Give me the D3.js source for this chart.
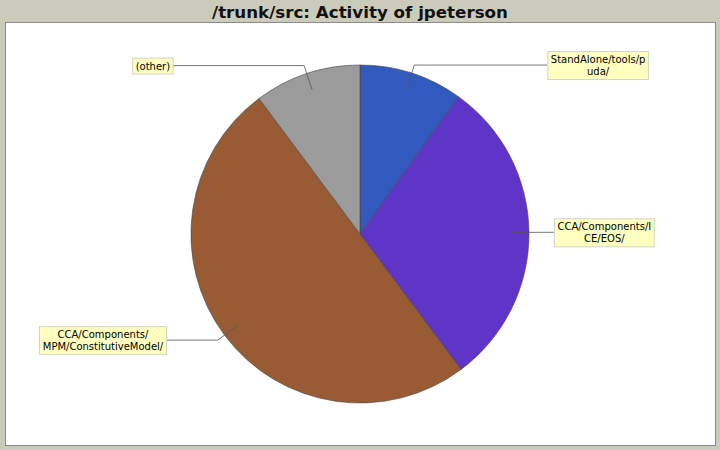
<!DOCTYPE html>
<html>
<head>
<meta charset="utf-8">
<script src="https://cdn.jsdelivr.net/npm/d3@7"></script>
<style>
  html, body { margin: 0; padding: 0; background: #cbcbbb; }
  svg { display: block; }
</style>
</head>
<body>
<svg id="chart" width="720" height="450"></svg>
<script>
// data (share of activity per directory)
const categories = ["StandAlone/tools/puda/", "CCA/Components/ICE/EOS/", "CCA/Components/MPM/ConstitutiveModel/", "(other)"];
const values = [9.9, 29.9, 50.0, 10.2];
const labelLines = [
    ["StandAlone/tools/p", "uda/"],
    ["CCA/Components/I", "CE/EOS/"],
    ["CCA/Components/", "MPM/ConstitutiveModel/"],
    ["(other)"]
];
const colors = ["#3159be", "#5f35c8", "#995b34", "#9b9b9b"];
const title = "/trunk/src: Activity of jpeterson";

const width = 720, height = 450;
const svg = d3.select("#chart");

// background + plot frame
svg.append("rect")
    .attr("width", width)
    .attr("height", height)
    .attr("fill", "#cbcbbb");

svg.append("rect")
    .attr("x", 5.5)
    .attr("y", 22.5)
    .attr("width", 710)
    .attr("height", 423)
    .attr("fill", "white")
    .attr("stroke", "#8a8a8a")
    .attr("stroke-width", 1);

svg.append("text")
    .attr("x", width / 2)
    .attr("y", 18)
    .attr("text-anchor", "middle")
    .attr("font-family", "DejaVu Sans")
    .attr("font-weight", "bold")
    .attr("font-size", 16.7)
    .attr("fill", "#111")
    .text(title);

// pie geometry
const cx = 360, cy = 234, r = 169;
const g = svg.append("g").attr("transform", `translate(${cx},${cy})`);

const pie = d3.pie().sort(null).value(d => d)(values);
const arc = d3.arc().innerRadius(0).outerRadius(r);

g.selectAll("path.slice")
    .data(pie)
    .join("path")
    .attr("class", "slice")
    .attr("d", arc)
    .attr("fill", (d, i) => colors[i])
    .attr("stroke", "#444")
    .attr("stroke-width", 0.6)
    .attr("stroke-linejoin", "round");

// labels with links
const anchorArc = d3.arc().innerRadius(r * 0.9).outerRadius(r * 0.9);
const elbowArc = d3.arc().innerRadius(r * 1.05).outerRadius(r * 1.05);
const lineH = 12, padX = 3, padY = 2;

pie.forEach((d, i) => {
    const mid = (d.startAngle + d.endAngle) / 2;
    const right = Math.sin(mid) > 0;
    const p0 = anchorArc.centroid(d);
    const p1 = elbowArc.centroid(d);

    const lines = labelLines[i];
    const lab = g.append("g");
    const txt = lab.append("text")
        .attr("font-family", "DejaVu Sans")
        .attr("font-size", 10)
        .attr("fill", "#000")
        .attr("text-anchor", "middle");
    lines.forEach((s, k) => {
        txt.append("tspan")
            .attr("x", 0)
            .attr("y", k * lineH)
            .text(s);
    });
    const bb = txt.node().getBBox();
    const bw = bb.width + padX * 2;
    const bh = lines.length * lineH + padY * 2;

    // labels near the top of the pie sit a bit closer in
    const dist = r + 25 - 7 * Math.max(0, Math.cos(mid));
    const boxX = right ? dist : -dist - bw;
    const boxY = p1[1] - bh / 2;

    g.append("polyline")
        .attr("points", [p0, p1, [right ? boxX : boxX + bw, p1[1]]].map(p => p.join(",")).join(" "))
        .attr("fill", "none")
        .attr("stroke", "#555")
        .attr("stroke-width", 0.8);

    lab.insert("rect", "text")
        .attr("x", boxX + 0.5)
        .attr("y", boxY + 0.5)
        .attr("width", bw)
        .attr("height", bh)
        .attr("fill", "#ffffc0")
        .attr("stroke", "#d4d4c4")
        .attr("stroke-width", 1);

    txt.attr("transform", `translate(${boxX + 0.5 + bw / 2},${boxY + padY + 10})`);
    lab.raise();
});
</script>
</body>
</html>
